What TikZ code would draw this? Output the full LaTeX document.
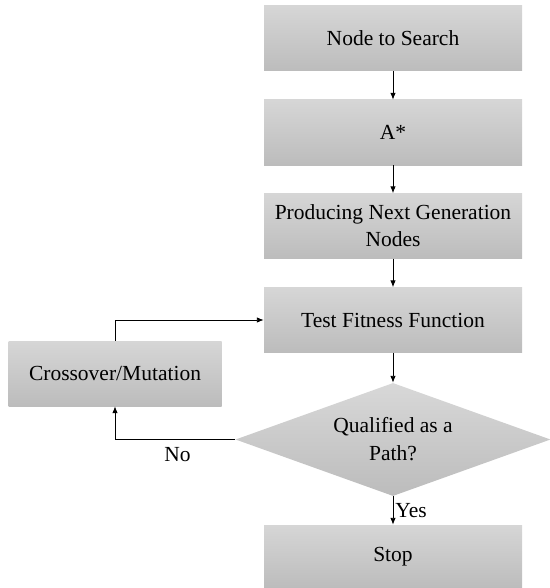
\documentclass[tikz,border=0pt]{standalone}
\usepackage{fontspec}
\setmainfont{Liberation Serif}
\usepackage{tikz}
\usetikzlibrary{shapes.geometric, arrows.meta, positioning}
\definecolor{boxtop}{RGB}{214, 214, 214}
\definecolor{boxbot}{RGB}{188, 188, 188}

\begin{document}
\begin{tikzpicture}[
    x=1pt, y=-1pt,
    procbox/.style={rectangle, top color=boxtop, bottom color=boxbot, draw=none, minimum width=258pt, minimum height=65pt, align=center, font=\fontsize{21.5}{27}\selectfont},
    decbox/.style={diamond, aspect=2.8, top color=boxtop!95, bottom color=boxbot, draw=none, minimum width=315pt, minimum height=113pt, inner sep=0pt, align=center, font=\fontsize{21.5}{28}\selectfont},
    arrowstyle/.style={-{Latex[length=7pt, width=5.5pt]}, black, line width=0.9pt},
    lbl/.style={font=\fontsize{21.5}{25}\selectfont}
]
\useasboundingbox (0,0) rectangle (549,588);

% Main chain
\node[procbox] (search) at (393,38.5) {Node to Search};
\node[procbox] (astar) at (393,132.5) {A*};
\node[procbox] (nextgen) at (393,226) {Producing Next Generation\\Nodes};
\node[procbox] (fitness) at (393,320) {Test Fitness Function};
\node[decbox] (qualified) at (393,439.5) {Qualified as a\\Path?};
\node[procbox, minimum height=63pt] (stop) at (393,556.5) {Stop};

% Loop back
\node[procbox, minimum width=213pt] (cross) at (115,373.5) {Crossover/Mutation};

\draw[arrowstyle] (search) -- (astar);
\draw[arrowstyle] (astar) -- (nextgen);
\draw[arrowstyle] (nextgen) -- (fitness);
\draw[arrowstyle] (fitness.south) -- (qualified.north);
\draw[arrowstyle] (qualified.south) -- node[lbl, right, inner sep=2pt] {Yes} (stop.north);
\draw[arrowstyle] (qualified.west) -| node[lbl, pos=0.24, below=4pt] {No} (cross.south);
\draw[arrowstyle] (cross.north) |- (fitness.west);
\end{tikzpicture}
\end{document}
